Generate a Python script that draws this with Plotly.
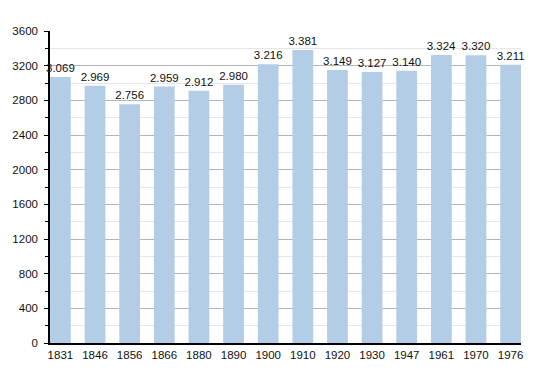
import plotly.graph_objects as go

years = ["1831", "1846", "1856", "1866", "1880", "1890", "1900", "1910",
         "1920", "1930", "1947", "1961", "1970", "1976"]
population = [3069, 2969, 2756, 2959, 2912, 2980, 3216, 3381,
              3149, 3127, 3140, 3324, 3320, 3211]
labels = [f"{v:,}".replace(",", ".") for v in population]
y_ticks = [0, 400, 800, 1200, 1600, 2000, 2400, 2800, 3200, 3600]

fig = go.Figure(go.Bar(
    x=years, y=population, text=labels, textposition="outside",
    constraintext="none",
    textfont=dict(size=11.5, color="#111", family="Liberation Sans, Arial"),
    marker=dict(color="#b3cde6", line=dict(width=0)),
    width=0.6, cliponaxis=False, hoverinfo="skip",
))

fig.update_layout(
    width=550, height=373,
    margin=dict(l=50, r=29, t=31, b=30),
    paper_bgcolor="white", plot_bgcolor="white",
    font=dict(family="Liberation Sans, Arial", size=11, color="#111"),
    showlegend=False,
    bargap=0.4,
    xaxis=dict(
        type="category", range=[-0.3, 13.3],
        showline=True, linecolor="black", linewidth=1.5,
        ticks="", showgrid=False, tickfont=dict(size=11.5),
    ),
    yaxis=dict(
        range=[0, 3600], tickvals=y_ticks, layer="below traces",
        showline=True, linecolor="black", linewidth=1.5,
        ticks="outside", ticklen=4, tickcolor="black", tickwidth=1,
        ticklabelstandoff=4,
        showgrid=True, gridcolor="#b4b4b4", gridwidth=1,
        zeroline=False, tickfont=dict(size=11.5),
        minor=dict(dtick=200, tick0=0, showgrid=True, gridcolor="#e6e6e6",
                   ticks="outside", ticklen=3, tickcolor="black"),
    ),
)

fig.write_html("out.html", config={"displayModeBar": False},
               post_script="document.body.style.margin='0';")
